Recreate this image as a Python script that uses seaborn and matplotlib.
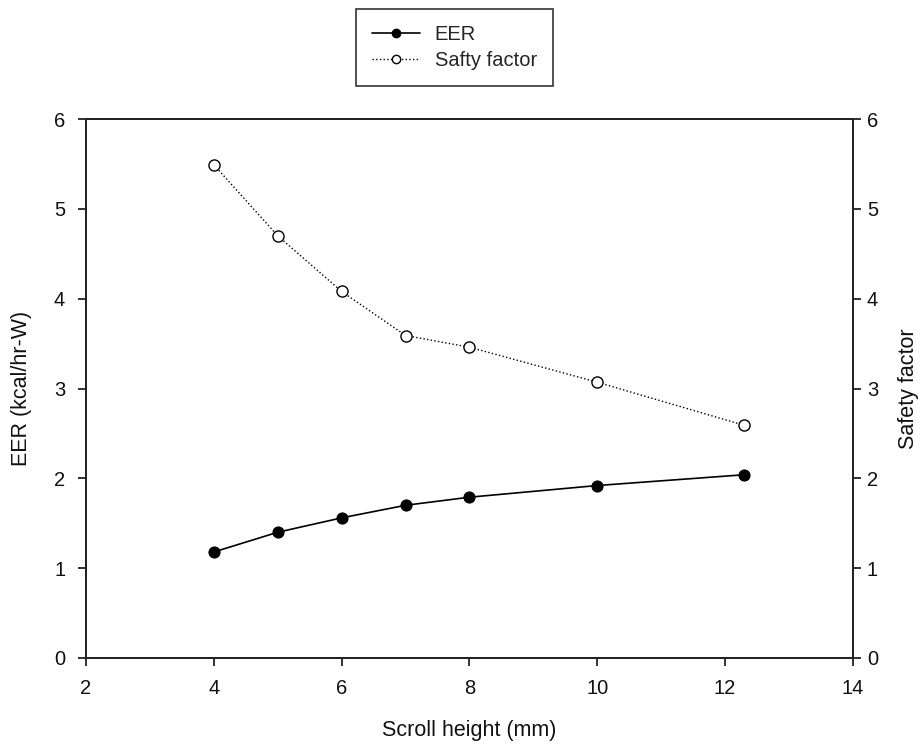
import matplotlib
matplotlib.use("Agg")
import matplotlib.pyplot as plt
import seaborn as sns
import pandas as pd
from matplotlib.lines import Line2D

scroll_height = [4, 5, 6, 7, 8, 10, 12.3]
eer = [1.18, 1.40, 1.56, 1.70, 1.79, 1.92, 2.04]
safety = [5.49, 4.70, 4.08, 3.59, 3.46, 3.07, 2.59]
x_ticks = [2, 4, 6, 8, 10, 12, 14]
y_ticks = [0, 1, 2, 3, 4, 5, 6]

sns.set_theme(style="ticks")
plt.rcParams['font.family'] = ['Liberation Sans', 'DejaVu Sans']

df = pd.DataFrame({"h": scroll_height, "eer": eer, "sf": safety})

fig = plt.figure(figsize=(9.24, 7.49), dpi=100)
ax = fig.add_axes([0.0931, 0.1215, 0.83, 0.7196])
ax2 = ax.twinx()

sns.lineplot(data=df, x="h", y="eer", ax=ax, color="black", linewidth=1.2,
             marker="o", markersize=8, markerfacecolor="black",
             markeredgecolor="black")
sns.lineplot(data=df, x="h", y="sf", ax=ax2, color="black", linewidth=1.0,
             linestyle=":", marker="o", markersize=8, markerfacecolor="white",
             markeredgecolor="black", markeredgewidth=1.0)

fs = 14.5
lfs = 15.5
for a in (ax, ax2):
    a.set_xlim(2, 14)
    a.set_ylim(0, 6)
    a.set_yticks(y_ticks)
    for s in a.spines.values():
        s.set_color("#222222")
        s.set_linewidth(1.3)
    a.tick_params(direction="out", length=6, width=1.3, colors="#222222",
                  labelsize=fs, labelcolor="#111111", pad=9)
ax2.tick_params(axis="y", pad=4)
ax.set_xticks(x_ticks)
ax.set_xlabel("Scroll height (mm)", fontsize=lfs, labelpad=16,
              color="#111111")
ax.set_ylabel("EER (kcal/hr-W)", fontsize=lfs, labelpad=16, color="#111111")
ax2.set_ylabel("Safety factor", fontsize=lfs, labelpad=14, color="#111111")

handles = [
    Line2D([], [], color="black", linewidth=1.2, marker="o", markersize=6,
           markerfacecolor="black"),
    Line2D([], [], color="black", linewidth=1.0, linestyle=":", marker="o",
           markersize=6, markerfacecolor="white"),
]
leg = fig.legend(handles, ["EER", "Safty factor"], loc="upper left",
                 bbox_to_anchor=(356 / 924, 1 - 9 / 749), fontsize=fs,
                 frameon=True, fancybox=False, edgecolor="black",
                 handlelength=2.4, handletextpad=0.7, borderpad=0.8,
                 labelspacing=0.35, borderaxespad=0.0)
leg.get_frame().set_linewidth(1.2)

fig.savefig("out.png", dpi=100)
